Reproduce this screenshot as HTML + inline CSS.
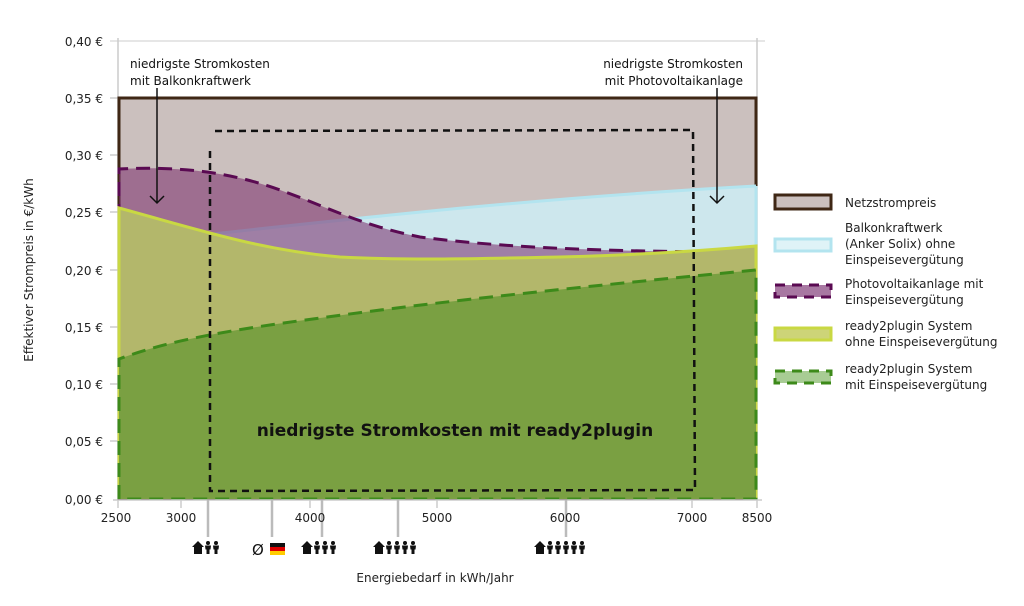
<!DOCTYPE html>
<html><head><meta charset="utf-8"><style>
body{margin:0;background:#fff;}
svg text{font-family:"DejaVu Sans","Liberation Sans",sans-serif;}
</style></head><body>
<svg width="1024" height="601" viewBox="0 0 1024 601" xmlns="http://www.w3.org/2000/svg">
<line x1="110" y1="41" x2="765" y2="41" stroke="#ddd" stroke-width="1.5"/>
<line x1="118" y1="38" x2="118" y2="500" stroke="#ccc" stroke-width="1.5"/>
<line x1="757" y1="38" x2="757" y2="500" stroke="#ccc" stroke-width="1.5"/>
<g stroke="#ccc" stroke-width="1.5">
<line x1="110" y1="98" x2="118" y2="98"/><line x1="110" y1="155" x2="118" y2="155"/>
<line x1="110" y1="212" x2="118" y2="212"/><line x1="110" y1="270" x2="118" y2="270"/>
<line x1="110" y1="327" x2="118" y2="327"/><line x1="110" y1="384" x2="118" y2="384"/>
<line x1="110" y1="441" x2="118" y2="441"/>
</g>
<rect x="119" y="98" width="637" height="401" fill="#cbc0be" stroke="#3f2715" stroke-width="3"/>
<path d="M119,244 C300,225 500,200 756,186 L756,499 L119,499 Z" fill="#cde7ed"/>
<path d="M119,244 C300,225 500,200 756,186" fill="none" stroke="#b3e4ef" stroke-width="3"/>
<line x1="756" y1="186" x2="756" y2="499" stroke="#b3e4ef" stroke-width="3"/>
<path d="M119,169 C180,166 230,172 280,190 C330,208 360,225 420,237 C520,250 650,252 756,252 L756,499 L119,499 Z" fill="#7a2a6a" fill-opacity="0.55"/>
<path d="M119,240 L119,169 C180,166 230,172 280,190 C330,208 360,225 420,237 C520,250 650,252 756,252" fill="none" stroke="#5a0a52" stroke-width="3" stroke-dasharray="14,8"/>
<path d="M119,208 C200,230 260,250 340,257 C420,261 500,258 560,257 C640,255 700,251 756,246 L756,499 L119,499 Z" fill="#b3b76b"/>
<path d="M119,499 L119,208 C200,230 260,250 340,257 C420,261 500,258 560,257 C640,255 700,251 756,246 L756,499" fill="none" stroke="#c9d843" stroke-width="3"/>
<path d="M119,359 C170,340 230,330 320,318 C450,300 600,285 756,270 L756,499 L119,499 Z" fill="#7aa042"/>
<path d="M119,499 L119,359 C170,340 230,330 320,318 C450,300 600,285 756,270 L756,499 L119,499" fill="none" stroke="#3d8a1a" stroke-width="3" stroke-dasharray="14,8"/>
<path d="M210,151 L210,491 L695,490 L693,130 L212,131" fill="none" stroke="#111" stroke-width="2.5" stroke-dasharray="7,5"/>
<text x="455" y="436" font-size="17" font-weight="bold" text-anchor="middle" fill="#111">niedrigste Stromkosten mit ready2plugin</text>
<text x="130" y="68" font-size="12" fill="#111">niedrigste Stromkosten</text>
<text x="130" y="85" font-size="12" fill="#111">mit Balkonkraftwerk</text>
<line x1="157" y1="88" x2="157" y2="203" stroke="#111" stroke-width="1.5"/>
<path d="M150,196 L157,203 L164,196" fill="none" stroke="#111" stroke-width="1.5"/>
<text x="743" y="68" font-size="12" fill="#111" text-anchor="end">niedrigste Stromkosten</text>
<text x="743" y="85" font-size="12" fill="#111" text-anchor="end">mit Photovoltaikanlage</text>
<line x1="717" y1="88" x2="717" y2="203" stroke="#111" stroke-width="1.5"/>
<path d="M710,196 L717,203 L724,196" fill="none" stroke="#111" stroke-width="1.5"/>
<g font-size="12" fill="#222" text-anchor="end">
<text x="103" y="46">0,40 €</text><text x="103" y="103">0,35 €</text>
<text x="103" y="160">0,30 €</text><text x="103" y="217">0,25 €</text>
<text x="103" y="275">0,20 €</text><text x="103" y="332">0,15 €</text>
<text x="103" y="389">0,10 €</text><text x="103" y="446">0,05 €</text>
<text x="103" y="504">0,00 €</text>
</g>
<text transform="translate(33,270) rotate(-90)" font-size="12" fill="#222" text-anchor="middle">Effektiver Strompreis in €/kWh</text>
<line x1="113" y1="500" x2="762" y2="500" stroke="#ccc" stroke-width="1.5"/>
<g stroke="#ccc" stroke-width="1.5">
<line x1="118" y1="500" x2="118" y2="508"/><line x1="181" y1="500" x2="181" y2="508"/>
<line x1="310" y1="500" x2="310" y2="508"/><line x1="437" y1="500" x2="437" y2="508"/>
<line x1="692" y1="500" x2="692" y2="508"/><line x1="757" y1="500" x2="757" y2="508"/>
</g>
<g stroke="#bbb" stroke-width="2.5">
<line x1="208" y1="500" x2="208" y2="537"/><line x1="272" y1="500" x2="272" y2="537"/>
<line x1="322" y1="500" x2="322" y2="537"/><line x1="398" y1="500" x2="398" y2="537"/>
<line x1="566" y1="500" x2="566" y2="537"/>
</g>
<g font-size="12" fill="#222" text-anchor="middle">
<text x="116" y="522">2500</text><text x="181" y="522">3000</text>
<text x="310" y="522">4000</text><text x="437" y="522">5000</text>
<text x="565" y="522">6000</text><text x="692" y="522">7000</text>
<text x="757" y="522">8500</text>
</g>
<defs>
<g id="house"><path d="M0,6 L6,0 L12,6 L10,6 L10,13 L2,13 L2,6 Z" fill="#111"/></g>
<g id="p"><circle cx="3" cy="2" r="2" fill="#111"/><path d="M0,4.5 L6,4.5 L5.5,8.5 L4.5,8.5 L4.5,13 L1.5,13 L1.5,8.5 L0.5,8.5 Z" fill="#111"/></g>
</defs>
<g transform="translate(192,541)"><use href="#house"/><use href="#p" x="13"/><use href="#p" x="21"/></g>
<text x="252" y="555" font-size="15" fill="#111">Ø</text>
<rect x="270" y="543" width="15" height="4" fill="#111"/><rect x="270" y="547" width="15" height="4" fill="#d00"/><rect x="270" y="551" width="15" height="4" fill="#fc0"/>
<g transform="translate(301,541)"><use href="#house"/><use href="#p" x="13"/><use href="#p" x="21"/><use href="#p" x="29"/></g>
<g transform="translate(373,541)"><use href="#house"/><use href="#p" x="13"/><use href="#p" x="21"/><use href="#p" x="29"/><use href="#p" x="37"/></g>
<g transform="translate(534,541)"><use href="#house"/><use href="#p" x="13"/><use href="#p" x="21"/><use href="#p" x="29"/><use href="#p" x="37"/><use href="#p" x="45"/></g>
<text x="435" y="582" font-size="12" fill="#222" text-anchor="middle">Energiebedarf in kWh/Jahr</text>
<rect x="775" y="195" width="56" height="14" fill="#cbc0be" stroke="#3f2715" stroke-width="3"/>
<text x="845" y="207" font-size="12" fill="#222">Netzstrompreis</text>
<rect x="775" y="239" width="56" height="12" fill="#dff3f7" stroke="#b3e4ef" stroke-width="3"/>
<text x="845" y="232" font-size="12" fill="#222">Balkonkraftwerk</text>
<text x="845" y="248" font-size="12" fill="#222">(Anker Solix) ohne</text>
<text x="845" y="264" font-size="12" fill="#222">Einspeisevergütung</text>
<rect x="775" y="285" width="56" height="12" fill="#a878a2" stroke="#5a0a52" stroke-width="3" stroke-dasharray="10,7"/>
<text x="845" y="288" font-size="12" fill="#222">Photovoltaikanlage mit</text>
<text x="845" y="304" font-size="12" fill="#222">Einspeisevergütung</text>
<rect x="775" y="328" width="56" height="12" fill="#cdd478" stroke="#c9d843" stroke-width="3"/>
<text x="845" y="330" font-size="12" fill="#222">ready2plugin System</text>
<text x="845" y="346" font-size="12" fill="#222">ohne Einspeisevergütung</text>
<rect x="775" y="371" width="56" height="12" fill="#a8cc94" stroke="#3d8a1a" stroke-width="3" stroke-dasharray="10,7"/>
<text x="845" y="373" font-size="12" fill="#222">ready2plugin System</text>
<text x="845" y="389" font-size="12" fill="#222">mit Einspeisevergütung</text>
</svg>
</body></html>
